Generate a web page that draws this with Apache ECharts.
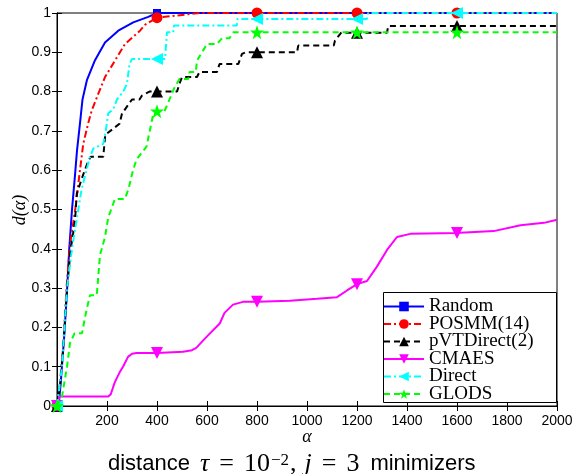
<!DOCTYPE html>
<html><head><meta charset="utf-8">
<script src="https://cdn.jsdelivr.net/npm/echarts@6/dist/echarts.min.js"></script>
<style>html,body{margin:0;padding:0;background:#fff}#c{width:577px;height:474px}</style>
</head><body><div id="c"></div>
<script>
const xTicks = [0,200,400,600,800,1000,1200,1400,1600,1800,2000];
const markerAlphas = [0,400,800,1200,1600];
const names = ['Random','POSMM(14)','pVTDirect(2)','CMAES','Direct','GLODS'];

const aRandom = [0,8,15,28,39,49,60,71,80,92,102,120,152,192,245,305,365,400,800,1200,1600,2000];
const vRandom = [0,0.01,0.06,0.17,0.28,0.4,0.5,0.58,0.65,0.72,0.78,0.83,0.88,0.925,0.955,0.976,0.99,1,1,1,1,1];

const aPOSMM = [0,12,25,38,52,73,88,105,125,139,165,192,232,272,332,352,400,570,800,1200,1600,2000];
const vPOSMM = [0,0.06,0.15,0.3,0.41,0.5,0.58,0.667,0.72,0.752,0.794,0.837,0.879,0.921,0.955,0.97,0.988,1,1,1,1,1];

const aPVT = [0,12,25,40,55,72,79,100,111,125,135,185,193,250,260,300,330,340,370,400,480,490,500,560,570,640,650,725,740,755,800,960,965,1107,1112,1137,1200,1320,1325,1600,2000];
const vPVT = [0,0.05,0.15,0.3,0.4,0.47,0.54,0.58,0.6,0.623,0.634,0.634,0.69,0.718,0.744,0.78,0.78,0.79,0.8,0.8,0.8,0.82,0.837,0.837,0.85,0.85,0.87,0.87,0.896,0.9,0.9,0.9,0.917,0.917,0.93,0.95,0.95,0.95,0.967,0.967,0.967];

const aCMAES = [0,10,205,215,231,250,264,284,300,318,400,504,540,557,598,651,670,704,744,800,932,1040,1120,1160,1200,1240,1279,1320,1360,1413,1600,1613,1747,1854,1948,2000];
const vCMAES = [0,0.024,0.024,0.03,0.06,0.085,0.1,0.125,0.133,0.135,0.135,0.138,0.142,0.148,0.176,0.21,0.237,0.258,0.265,0.265,0.268,0.273,0.277,0.294,0.31,0.318,0.354,0.397,0.43,0.438,0.44,0.441,0.445,0.46,0.466,0.474];

const aDirect = [0,20,40,60,75,98,112,130,145,185,195,205,225,240,265,280,290,300,400,432,440,465,468,719,722,800,1200,1240,1245,1600,2000];
const vDirect = [0,0.1,0.3,0.4,0.46,0.55,0.585,0.63,0.655,0.667,0.7,0.745,0.755,0.78,0.8,0.82,0.87,0.883,0.883,0.883,0.951,0.951,0.968,0.968,0.985,0.985,0.985,0.985,1,1,1];

const aGLODS = [0,20,40,52,70,100,116,132,159,172,192,205,232,272,288,304,318,358,384,400,430,450,470,490,525,530,555,560,580,600,640,660,690,705,800,1200,1600,2000];
const vGLODS = [0,0.024,0.1,0.16,0.185,0.185,0.238,0.282,0.282,0.384,0.43,0.48,0.527,0.527,0.557,0.6,0.627,0.66,0.74,0.75,0.75,0.78,0.81,0.832,0.832,0.85,0.85,0.879,0.9,0.921,0.921,0.936,0.936,0.951,0.951,0.951,0.951,0.951];

const STAR = 'path://M50,0 L61.8,34.5 L97.6,34.5 L68.7,55.9 L79.4,90.5 L50,69.1 L20.6,90.5 L31.3,55.9 L2.4,34.5 L38.2,34.5 Z';

const styles = [
  {xs:aRandom, ys:vRandom, color:'#0000ff', type:'solid', symbol:'rect', size:8, rot:0},
  {xs:aPOSMM, ys:vPOSMM, color:'#ff0000', type:[7,3,2,3], symbol:'circle', size:11, rot:0},
  {xs:aPVT, ys:vPVT, color:'#000000', type:[6,4], symbol:'triangle', size:12, rot:0},
  {xs:aCMAES, ys:vCMAES, color:'#ff00ff', type:'solid', symbol:'triangle', size:12, rot:180},
  {xs:aDirect, ys:vDirect, color:'#00ffff', type:[7,3,2,3], symbol:'triangle', size:12, rot:90},
  {xs:aGLODS, ys:vGLODS, color:'#00ff00', type:[6,4], symbol:STAR, size:14, rot:0}
];

const series = styles.map((s,i)=>({
  name: names[i], type:'line', z: 2+i,
  symbol: s.symbol, symbolSize: s.size, symbolRotate: s.rot,
  showSymbol:true, showAllSymbol:true, animation:false,
  lineStyle:{color:s.color, width:2, type:s.type},
  itemStyle:{color:s.color, borderWidth:0},
  emphasis:{disabled:true},
  data: s.xs.map((x,k)=> markerAlphas.includes(x) ? {value:[x,s.ys[k]]} : {value:[x,s.ys[k]], symbol:'none'})
}));

const axisFont = {fontFamily:'Liberation Sans', fontSize:14, color:'#000'};
const chart = echarts.init(document.getElementById('c'), null, {renderer:'canvas'});
chart.setOption({
  animation:false,
  backgroundColor:'#fff',
  grid:{left:57, right:20, top:13, bottom:68, show:true, borderColor:'#000', borderWidth:1, backgroundColor:'transparent'},
  title:{
    text:'{a|distance}{m|τ}{e|=}{r|10}{s|−2}{c|,}{m|j}{e|=}{r|3}{b|minimizers}',
    left:103, top:447,
    textStyle:{fontWeight:'normal', rich:{
      a:{fontFamily:'Liberation Sans', fontWeight:'normal', fontSize:22, color:'#000', lineHeight:24, padding:[0,9,0,0]},
      b:{fontFamily:'Liberation Sans', fontWeight:'normal', fontSize:22, color:'#000', lineHeight:24, padding:[0,0,0,11]},
      m:{fontFamily:'Liberation Serif', fontWeight:'normal', fontStyle:'italic', fontSize:26, color:'#000', lineHeight:24, padding:[0,0,0,1]},
      e:{fontFamily:'Liberation Serif', fontWeight:'normal', fontSize:26, color:'#000', lineHeight:24, padding:[0,10,0,10]},
      r:{fontFamily:'Liberation Serif', fontWeight:'normal', fontSize:26, color:'#000', lineHeight:24},
      c:{fontFamily:'Liberation Serif', fontWeight:'normal', fontSize:26, color:'#000', lineHeight:24, padding:[0,7,0,0]},
      s:{fontFamily:'Liberation Serif', fontWeight:'normal', fontSize:17, color:'#000', verticalAlign:'top', lineHeight:16, padding:[0,1,0,1]}
    }}
  },
  legend:{
    orient:'vertical', left:380, top:295, itemWidth:40, itemHeight:12, itemGap:-1.5,
    padding:[2,4,2,3], data:names,
    textStyle:{fontFamily:'Liberation Serif', fontSize:19, color:'#000'},
    z:10
  },
  graphic:[
    {type:'rect', shape:{x:383.5, y:292.5, width:173, height:110}, style:{fill:'#fff', stroke:'#000', lineWidth:1}, z:5},
    {type:'text', x:20, y:210, rotation:Math.PI/2, style:{text:'d(α)', align:'center', verticalAlign:'middle', font:'italic 18px "Liberation Serif"', fill:'#000'}, z:10},
    {type:'text', x:307, y:437, style:{text:'α', align:'center', verticalAlign:'middle', font:'italic 18px "Liberation Serif"', fill:'#000'}, z:10}
  ],
  xAxis:[
    {type:'value', min:0, max:2000, interval:200, position:'bottom',
     axisLine:{lineStyle:{color:'#000', width:1}}, axisTick:{inside:true, length:5, lineStyle:{color:'#000'}},
     axisLabel:Object.assign({margin:8, formatter:v=> v===0 ? '' : String(v)}, axisFont), splitLine:{show:false}},
    {type:'value', min:0, max:2000, interval:200, position:'top',
     axisLine:{lineStyle:{color:'#000', width:1}}, axisTick:{inside:true, length:5, lineStyle:{color:'#000'}},
     axisLabel:{show:false}, splitLine:{show:false}}
  ],
  yAxis:[
    {type:'value', min:0, max:1, interval:0.1, position:'left',
     axisLine:{show:true, lineStyle:{color:'#000', width:1}}, axisTick:{show:true, inside:true, length:5, lineStyle:{color:'#000'}},
     axisLabel:Object.assign({margin:6, formatter:v=> String(Math.round(v*10)/10)}, axisFont), splitLine:{show:false}},
    {type:'value', min:0, max:1, interval:0.1, position:'right',
     axisLine:{show:true, lineStyle:{color:'#000', width:1}}, axisTick:{show:true, inside:true, length:5, lineStyle:{color:'#000'}},
     axisLabel:{show:false}, splitLine:{show:false}}
  ],
  series: series
});
</script></body></html>
